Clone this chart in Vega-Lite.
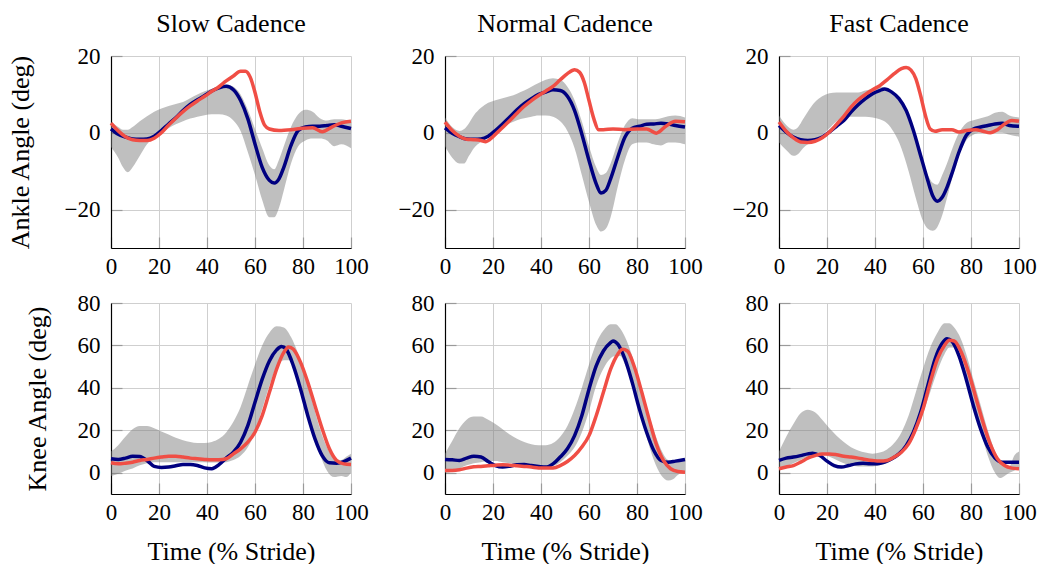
{
"$schema": "https://vega.github.io/schema/vega-lite/v6.json",
"padding": {"left": 7, "top": 11, "right": 5, "bottom": 0},
"bounds": "flush",
"columns": 3,
"spacing": {"row": 55, "column": 94},
"config": {
  "font": "Liberation Serif",
  "view": {"stroke": null},
  "axis": {"labelFont": "Liberation Serif", "labelFontSize": 23, "labelColor": "black", "titleFont": "Liberation Serif", "titleFontSize": 26, "titleFontWeight": "normal", "titleColor": "black", "gridColor": "#cfcfcf", "gridWidth": 1, "gridOpacity": 1, "domainColor": "black", "domainWidth": 1.2, "tickColor": "#9a9a9a", "tickSize": -11, "tickWidth": 1.2, "labelFlush": false, "labelOverlap": false},
  "axisX": {"labelPadding": 18, "titlePadding": 14},
  "axisY": {"labelPadding": 22},
  "title": {"font": "Liberation Serif", "fontSize": 26, "fontWeight": "normal", "color": "black", "frame": "group", "baseline": "alphabetic", "offset": 8}
},
"datasets": {
"bands": [
{"p":"AS","t":0,"lo":-3.7,"hi":2.8},{"p":"AS","t":3,"lo":-6.5,"hi":1.5},{"p":"AS","t":5,"lo":-9,"hi":0.8},{"p":"AS","t":7,"lo":-10.3,"hi":0.8},{"p":"AS","t":9,"lo":-9,"hi":1.5},{"p":"AS","t":12,"lo":-6,"hi":3.0},{"p":"AS","t":15,"lo":-3,"hi":4.3},{"p":"AS","t":18,"lo":-1.3,"hi":5.5},{"p":"AS","t":21,"lo":0,"hi":6.3},{"p":"AS","t":24,"lo":1.2,"hi":7.0},{"p":"AS","t":27,"lo":2.2,"hi":7.5},{"p":"AS","t":30,"lo":3.0,"hi":8.0},{"p":"AS","t":33,"lo":3.7,"hi":9.0},{"p":"AS","t":36,"lo":4.2,"hi":10.0},{"p":"AS","t":39,"lo":4.6,"hi":10.8},{"p":"AS","t":42,"lo":4.8,"hi":11.5},{"p":"AS","t":45,"lo":4.8,"hi":12.2},{"p":"AS","t":48,"lo":4.5,"hi":12.5},{"p":"AS","t":51,"lo":3.2,"hi":12.0},{"p":"AS","t":54,"lo":0.5,"hi":10.0},{"p":"AS","t":57,"lo":-5,"hi":6.0},{"p":"AS","t":60,"lo":-11,"hi":1.0},{"p":"AS","t":63,"lo":-17.5,"hi":-4},{"p":"AS","t":66,"lo":-22,"hi":-8.5},{"p":"AS","t":68,"lo":-22,"hi":-9.5},{"p":"AS","t":70,"lo":-19.5,"hi":-7},{"p":"AS","t":72,"lo":-15,"hi":-3.5},{"p":"AS","t":75,"lo":-8,"hi":1.5},{"p":"AS","t":78,"lo":-3.5,"hi":4.8},{"p":"AS","t":81,"lo":-2,"hi":6.0},{"p":"AS","t":84,"lo":-1.5,"hi":5.5},{"p":"AS","t":87,"lo":-1.5,"hi":3.8},{"p":"AS","t":90,"lo":-2,"hi":3.2},{"p":"AS","t":93,"lo":-3.5,"hi":3.5},{"p":"AS","t":96,"lo":-3,"hi":3.5},{"p":"AS","t":100,"lo":-4,"hi":2.8},
{"p":"AN","t":0,"lo":-3.5,"hi":4},{"p":"AN","t":3,"lo":-6.5,"hi":1.5},{"p":"AN","t":6,"lo":-8,"hi":0.5},{"p":"AN","t":8,"lo":-8,"hi":1.0},{"p":"AN","t":10,"lo":-6,"hi":2.5},{"p":"AN","t":12,"lo":-4,"hi":4.5},{"p":"AN","t":15,"lo":-2.3,"hi":6.5},{"p":"AN","t":18,"lo":-1.0,"hi":7.8},{"p":"AN","t":21,"lo":0.3,"hi":8.5},{"p":"AN","t":24,"lo":1.5,"hi":9.0},{"p":"AN","t":27,"lo":2.5,"hi":9.5},{"p":"AN","t":30,"lo":3.3,"hi":10.2},{"p":"AN","t":33,"lo":3.8,"hi":11.0},{"p":"AN","t":36,"lo":4.2,"hi":12.0},{"p":"AN","t":39,"lo":4.5,"hi":13.0},{"p":"AN","t":42,"lo":4.5,"hi":13.8},{"p":"AN","t":45,"lo":4.2,"hi":14.2},{"p":"AN","t":48,"lo":3.0,"hi":13.8},{"p":"AN","t":51,"lo":0.5,"hi":12.0},{"p":"AN","t":54,"lo":-4,"hi":8.5},{"p":"AN","t":57,"lo":-11,"hi":3.0},{"p":"AN","t":60,"lo":-18,"hi":-3.5},{"p":"AN","t":63,"lo":-24,"hi":-9},{"p":"AN","t":65,"lo":-25.7,"hi":-11},{"p":"AN","t":67,"lo":-25,"hi":-10.5},{"p":"AN","t":69,"lo":-22,"hi":-8},{"p":"AN","t":72,"lo":-14,"hi":-2.5},{"p":"AN","t":75,"lo":-7,"hi":2.0},{"p":"AN","t":78,"lo":-3,"hi":3.8},{"p":"AN","t":81,"lo":-2.5,"hi":3.5},{"p":"AN","t":84,"lo":-2.5,"hi":3.5},{"p":"AN","t":87,"lo":-3,"hi":3.5},{"p":"AN","t":90,"lo":-3.3,"hi":3.8},{"p":"AN","t":93,"lo":-2.5,"hi":4.3},{"p":"AN","t":96,"lo":-2.5,"hi":4.5},{"p":"AN","t":100,"lo":-3,"hi":4},
{"p":"AF","t":0,"lo":-2.5,"hi":4.5},{"p":"AF","t":3,"lo":-4.5,"hi":2.0},{"p":"AF","t":6,"lo":-6,"hi":0.8},{"p":"AF","t":8,"lo":-5.5,"hi":1.5},{"p":"AF","t":10,"lo":-4,"hi":3.5},{"p":"AF","t":12,"lo":-3,"hi":5.5},{"p":"AF","t":15,"lo":-1.8,"hi":8.0},{"p":"AF","t":18,"lo":-0.5,"hi":9.5},{"p":"AF","t":21,"lo":1.2,"hi":10.3},{"p":"AF","t":24,"lo":3.0,"hi":10.5},{"p":"AF","t":27,"lo":4.0,"hi":10.5},{"p":"AF","t":30,"lo":4.2,"hi":10.5},{"p":"AF","t":33,"lo":4.2,"hi":10.5},{"p":"AF","t":36,"lo":4.2,"hi":11.0},{"p":"AF","t":39,"lo":4.0,"hi":11.5},{"p":"AF","t":42,"lo":3.5,"hi":12.0},{"p":"AF","t":45,"lo":2.5,"hi":11.5},{"p":"AF","t":48,"lo":0,"hi":10.0},{"p":"AF","t":51,"lo":-4,"hi":7.5},{"p":"AF","t":54,"lo":-10,"hi":3.5},{"p":"AF","t":57,"lo":-17,"hi":-2},{"p":"AF","t":60,"lo":-23,"hi":-8},{"p":"AF","t":62,"lo":-25,"hi":-11},{"p":"AF","t":64,"lo":-25.5,"hi":-13},{"p":"AF","t":66,"lo":-24.5,"hi":-13.5},{"p":"AF","t":68,"lo":-21.5,"hi":-11},{"p":"AF","t":70,"lo":-17,"hi":-8},{"p":"AF","t":72,"lo":-12,"hi":-4.5},{"p":"AF","t":75,"lo":-6,"hi":0},{"p":"AF","t":78,"lo":-2,"hi":2.5},{"p":"AF","t":81,"lo":-0.5,"hi":3.3},{"p":"AF","t":84,"lo":0,"hi":3.8},{"p":"AF","t":87,"lo":0,"hi":4.3},{"p":"AF","t":90,"lo":0,"hi":5.2},{"p":"AF","t":93,"lo":0,"hi":5.5},{"p":"AF","t":96,"lo":-0.5,"hi":4.5},{"p":"AF","t":100,"lo":-1.0,"hi":4.0},
{"p":"KS","t":0,"lo":-1.5,"hi":10},{"p":"KS","t":3,"lo":-0.5,"hi":13},{"p":"KS","t":6,"lo":1.0,"hi":17},{"p":"KS","t":9,"lo":2.0,"hi":20.5},{"p":"KS","t":12,"lo":3.5,"hi":22},{"p":"KS","t":15,"lo":4.5,"hi":22},{"p":"KS","t":18,"lo":5.0,"hi":21},{"p":"KS","t":21,"lo":5.0,"hi":19.5},{"p":"KS","t":24,"lo":5.0,"hi":18},{"p":"KS","t":27,"lo":5.0,"hi":16.5},{"p":"KS","t":30,"lo":5.0,"hi":15.3},{"p":"KS","t":33,"lo":5.0,"hi":14.5},{"p":"KS","t":36,"lo":5.0,"hi":14.0},{"p":"KS","t":39,"lo":5.0,"hi":14.0},{"p":"KS","t":42,"lo":4.8,"hi":14.5},{"p":"KS","t":45,"lo":4.8,"hi":16.0},{"p":"KS","t":48,"lo":5.0,"hi":19.0},{"p":"KS","t":51,"lo":6,"hi":24},{"p":"KS","t":54,"lo":8,"hi":31},{"p":"KS","t":57,"lo":12,"hi":41},{"p":"KS","t":60,"lo":19,"hi":51},{"p":"KS","t":63,"lo":30,"hi":60},{"p":"KS","t":66,"lo":41,"hi":66},{"p":"KS","t":69,"lo":50,"hi":69},{"p":"KS","t":72,"lo":53,"hi":68.5},{"p":"KS","t":75,"lo":53,"hi":64},{"p":"KS","t":78,"lo":45,"hi":56},{"p":"KS","t":81,"lo":33,"hi":45},{"p":"KS","t":84,"lo":20,"hi":33},{"p":"KS","t":87,"lo":9,"hi":21},{"p":"KS","t":90,"lo":1,"hi":12},{"p":"KS","t":93,"lo":-2,"hi":7},{"p":"KS","t":96,"lo":-1.5,"hi":6},{"p":"KS","t":98,"lo":-2,"hi":7.5},{"p":"KS","t":100,"lo":0,"hi":9},
{"p":"KN","t":0,"lo":0,"hi":9},{"p":"KN","t":3,"lo":0.5,"hi":15},{"p":"KN","t":6,"lo":2,"hi":21},{"p":"KN","t":9,"lo":3.5,"hi":25},{"p":"KN","t":12,"lo":4.5,"hi":26.5},{"p":"KN","t":15,"lo":5,"hi":26.5},{"p":"KN","t":18,"lo":5.5,"hi":25},{"p":"KN","t":21,"lo":5.5,"hi":23},{"p":"KN","t":24,"lo":5,"hi":20.5},{"p":"KN","t":27,"lo":4.5,"hi":18},{"p":"KN","t":30,"lo":4,"hi":16},{"p":"KN","t":33,"lo":3.5,"hi":14.5},{"p":"KN","t":36,"lo":3,"hi":13.5},{"p":"KN","t":39,"lo":3,"hi":13},{"p":"KN","t":42,"lo":3,"hi":13},{"p":"KN","t":45,"lo":3.2,"hi":14},{"p":"KN","t":48,"lo":5,"hi":17},{"p":"KN","t":51,"lo":8,"hi":22},{"p":"KN","t":54,"lo":12,"hi":30},{"p":"KN","t":57,"lo":19,"hi":40},{"p":"KN","t":60,"lo":29,"hi":51},{"p":"KN","t":63,"lo":41,"hi":61},{"p":"KN","t":66,"lo":49,"hi":67},{"p":"KN","t":69,"lo":54,"hi":70},{"p":"KN","t":71,"lo":55,"hi":70},{"p":"KN","t":73,"lo":55,"hi":68},{"p":"KN","t":75,"lo":51,"hi":64},{"p":"KN","t":78,"lo":42,"hi":55},{"p":"KN","t":81,"lo":30,"hi":43},{"p":"KN","t":84,"lo":17,"hi":31},{"p":"KN","t":87,"lo":6,"hi":20},{"p":"KN","t":90,"lo":-1,"hi":11},{"p":"KN","t":93,"lo":-3.6,"hi":6},{"p":"KN","t":95,"lo":-3,"hi":5.5},{"p":"KN","t":97,"lo":-1,"hi":6},{"p":"KN","t":100,"lo":1,"hi":7},
{"p":"KF","t":0,"lo":2,"hi":10},{"p":"KF","t":3,"lo":3,"hi":17},{"p":"KF","t":6,"lo":4.5,"hi":23},{"p":"KF","t":9,"lo":6,"hi":28},{"p":"KF","t":12,"lo":7.5,"hi":29.7},{"p":"KF","t":15,"lo":8.5,"hi":28.5},{"p":"KF","t":18,"lo":9,"hi":25},{"p":"KF","t":21,"lo":7.5,"hi":21},{"p":"KF","t":24,"lo":6,"hi":17.5},{"p":"KF","t":27,"lo":4.5,"hi":14.5},{"p":"KF","t":30,"lo":3.5,"hi":12},{"p":"KF","t":33,"lo":3,"hi":10.5},{"p":"KF","t":36,"lo":3,"hi":9.5},{"p":"KF","t":39,"lo":3,"hi":9},{"p":"KF","t":42,"lo":3.5,"hi":9.5},{"p":"KF","t":45,"lo":4.5,"hi":11},{"p":"KF","t":48,"lo":6.5,"hi":14},{"p":"KF","t":51,"lo":9,"hi":19},{"p":"KF","t":54,"lo":13,"hi":27},{"p":"KF","t":57,"lo":19,"hi":38},{"p":"KF","t":60,"lo":28,"hi":49},{"p":"KF","t":63,"lo":38,"hi":59},{"p":"KF","t":66,"lo":48,"hi":66},{"p":"KF","t":69,"lo":56,"hi":70.5},{"p":"KF","t":71,"lo":59,"hi":70.5},{"p":"KF","t":73,"lo":59,"hi":68.5},{"p":"KF","t":75,"lo":55,"hi":65},{"p":"KF","t":78,"lo":46,"hi":56},{"p":"KF","t":81,"lo":34,"hi":44},{"p":"KF","t":84,"lo":20,"hi":32},{"p":"KF","t":87,"lo":8,"hi":20},{"p":"KF","t":90,"lo":0,"hi":10},{"p":"KF","t":92,"lo":-2.5,"hi":5},{"p":"KF","t":94,"lo":-1.5,"hi":3},{"p":"KF","t":96,"lo":0,"hi":3},{"p":"KF","t":98,"lo":1,"hi":8},{"p":"KF","t":100,"lo":2,"hi":10}
],
"lines": [
{"p":"AS","s":"m","t":0,"v":1.0},{"p":"AS","s":"m","t":3,"v":-0.4},{"p":"AS","s":"m","t":6,"v":-1.1},{"p":"AS","s":"m","t":9,"v":-1.6},{"p":"AS","s":"m","t":12,"v":-1.7},{"p":"AS","s":"m","t":15,"v":-1.6},{"p":"AS","s":"m","t":18,"v":-0.9},{"p":"AS","s":"m","t":21,"v":0.6},{"p":"AS","s":"m","t":24,"v":2.3},{"p":"AS","s":"m","t":27,"v":3.9},{"p":"AS","s":"m","t":30,"v":5.8},{"p":"AS","s":"m","t":33,"v":7.4},{"p":"AS","s":"m","t":36,"v":8.6},{"p":"AS","s":"m","t":39,"v":9.7},{"p":"AS","s":"m","t":42,"v":10.9},{"p":"AS","s":"m","t":45,"v":11.7},{"p":"AS","s":"m","t":48,"v":12.1},{"p":"AS","s":"m","t":51,"v":11.2},{"p":"AS","s":"m","t":54,"v":8.4},{"p":"AS","s":"m","t":57,"v":3.7},{"p":"AS","s":"m","t":60,"v":-2.9},{"p":"AS","s":"m","t":63,"v":-9},{"p":"AS","s":"m","t":66,"v":-12.4},{"p":"AS","s":"m","t":68,"v":-13.1},{"p":"AS","s":"m","t":70,"v":-12},{"p":"AS","s":"m","t":72,"v":-9},{"p":"AS","s":"m","t":75,"v":-3.3},{"p":"AS","s":"m","t":78,"v":0.6},{"p":"AS","s":"m","t":81,"v":1.5},{"p":"AS","s":"m","t":84,"v":1.7},{"p":"AS","s":"m","t":87,"v":1.7},{"p":"AS","s":"m","t":90,"v":1.9},{"p":"AS","s":"m","t":93,"v":2.1},{"p":"AS","s":"m","t":96,"v":1.7},{"p":"AS","s":"m","t":100,"v":1.1},
{"p":"AS","s":"r","t":0,"v":2.5},{"p":"AS","s":"r","t":3,"v":0.5},{"p":"AS","s":"r","t":6,"v":-1.0},{"p":"AS","s":"r","t":9,"v":-1.8},{"p":"AS","s":"r","t":12,"v":-2.0},{"p":"AS","s":"r","t":15,"v":-2.0},{"p":"AS","s":"r","t":18,"v":-1.4},{"p":"AS","s":"r","t":21,"v":0.0},{"p":"AS","s":"r","t":24,"v":2.0},{"p":"AS","s":"r","t":27,"v":3.8},{"p":"AS","s":"r","t":30,"v":5.5},{"p":"AS","s":"r","t":33,"v":7.0},{"p":"AS","s":"r","t":36,"v":8.3},{"p":"AS","s":"r","t":39,"v":9.5},{"p":"AS","s":"r","t":42,"v":10.8},{"p":"AS","s":"r","t":45,"v":12.0},{"p":"AS","s":"r","t":48,"v":13.5},{"p":"AS","s":"r","t":51,"v":14.8},{"p":"AS","s":"r","t":54,"v":16.0},{"p":"AS","s":"r","t":56,"v":16.0},{"p":"AS","s":"r","t":58,"v":14.5},{"p":"AS","s":"r","t":60,"v":10.5},{"p":"AS","s":"r","t":62,"v":5.5},{"p":"AS","s":"r","t":64,"v":2.0},{"p":"AS","s":"r","t":66,"v":1.0},{"p":"AS","s":"r","t":70,"v":0.6},{"p":"AS","s":"r","t":75,"v":0.8},{"p":"AS","s":"r","t":80,"v":1.2},{"p":"AS","s":"r","t":84,"v":1.3},{"p":"AS","s":"r","t":88,"v":0.3},{"p":"AS","s":"r","t":92,"v":1.5},{"p":"AS","s":"r","t":96,"v":2.6},{"p":"AS","s":"r","t":100,"v":3.0},
{"p":"AN","s":"m","t":0,"v":1.3},{"p":"AN","s":"m","t":3,"v":-0.1},{"p":"AN","s":"m","t":6,"v":-1.0},{"p":"AN","s":"m","t":9,"v":-1.6},{"p":"AN","s":"m","t":12,"v":-1.7},{"p":"AN","s":"m","t":15,"v":-1.6},{"p":"AN","s":"m","t":18,"v":-0.9},{"p":"AN","s":"m","t":21,"v":0.6},{"p":"AN","s":"m","t":24,"v":2.3},{"p":"AN","s":"m","t":27,"v":4.1},{"p":"AN","s":"m","t":30,"v":6.0},{"p":"AN","s":"m","t":33,"v":7.6},{"p":"AN","s":"m","t":36,"v":8.9},{"p":"AN","s":"m","t":39,"v":10.0},{"p":"AN","s":"m","t":42,"v":10.6},{"p":"AN","s":"m","t":45,"v":11.2},{"p":"AN","s":"m","t":48,"v":11.0},{"p":"AN","s":"m","t":51,"v":9.5},{"p":"AN","s":"m","t":54,"v":5.8},{"p":"AN","s":"m","t":57,"v":-0.3},{"p":"AN","s":"m","t":60,"v":-7.2},{"p":"AN","s":"m","t":63,"v":-13.3},{"p":"AN","s":"m","t":65,"v":-15.7},{"p":"AN","s":"m","t":67,"v":-15.0},{"p":"AN","s":"m","t":69,"v":-12.0},{"p":"AN","s":"m","t":72,"v":-6.3},{"p":"AN","s":"m","t":75,"v":-1.1},{"p":"AN","s":"m","t":78,"v":1.2},{"p":"AN","s":"m","t":81,"v":1.7},{"p":"AN","s":"m","t":84,"v":2.2},{"p":"AN","s":"m","t":87,"v":2.3},{"p":"AN","s":"m","t":90,"v":2.5},{"p":"AN","s":"m","t":93,"v":2.3},{"p":"AN","s":"m","t":96,"v":1.9},{"p":"AN","s":"m","t":100,"v":1.5},
{"p":"AN","s":"r","t":0,"v":2.8},{"p":"AN","s":"r","t":3,"v":0.6},{"p":"AN","s":"r","t":6,"v":-0.9},{"p":"AN","s":"r","t":9,"v":-1.7},{"p":"AN","s":"r","t":12,"v":-1.8},{"p":"AN","s":"r","t":15,"v":-2.0},{"p":"AN","s":"r","t":17,"v":-2.3},{"p":"AN","s":"r","t":20,"v":-1.0},{"p":"AN","s":"r","t":23,"v":0.8},{"p":"AN","s":"r","t":27,"v":3.2},{"p":"AN","s":"r","t":30,"v":5.1},{"p":"AN","s":"r","t":33,"v":6.9},{"p":"AN","s":"r","t":36,"v":8.4},{"p":"AN","s":"r","t":39,"v":9.7},{"p":"AN","s":"r","t":42,"v":10.9},{"p":"AN","s":"r","t":45,"v":12.1},{"p":"AN","s":"r","t":48,"v":13.8},{"p":"AN","s":"r","t":51,"v":15.4},{"p":"AN","s":"r","t":54,"v":16.4},{"p":"AN","s":"r","t":56,"v":15.8},{"p":"AN","s":"r","t":58,"v":13.2},{"p":"AN","s":"r","t":60,"v":8.4},{"p":"AN","s":"r","t":62,"v":3.7},{"p":"AN","s":"r","t":64,"v":0.8},{"p":"AN","s":"r","t":66,"v":0.8},{"p":"AN","s":"r","t":70,"v":1.0},{"p":"AN","s":"r","t":75,"v":0.8},{"p":"AN","s":"r","t":80,"v":1.0},{"p":"AN","s":"r","t":84,"v":1.0},{"p":"AN","s":"r","t":88,"v":-0.1},{"p":"AN","s":"r","t":92,"v":1.7},{"p":"AN","s":"r","t":96,"v":3.0},{"p":"AN","s":"r","t":100,"v":2.9},
{"p":"AF","s":"m","t":0,"v":1.9},{"p":"AF","s":"m","t":3,"v":0.2},{"p":"AF","s":"m","t":6,"v":-1.1},{"p":"AF","s":"m","t":9,"v":-1.8},{"p":"AF","s":"m","t":12,"v":-2.0},{"p":"AF","s":"m","t":15,"v":-1.8},{"p":"AF","s":"m","t":18,"v":-1.1},{"p":"AF","s":"m","t":21,"v":0.2},{"p":"AF","s":"m","t":24,"v":1.7},{"p":"AF","s":"m","t":27,"v":3.2},{"p":"AF","s":"m","t":30,"v":5.4},{"p":"AF","s":"m","t":33,"v":7.3},{"p":"AF","s":"m","t":36,"v":8.9},{"p":"AF","s":"m","t":39,"v":10.2},{"p":"AF","s":"m","t":42,"v":11.0},{"p":"AF","s":"m","t":44,"v":11.4},{"p":"AF","s":"m","t":47,"v":10.6},{"p":"AF","s":"m","t":50,"v":8.9},{"p":"AF","s":"m","t":53,"v":5.8},{"p":"AF","s":"m","t":56,"v":0.6},{"p":"AF","s":"m","t":59,"v":-5.9},{"p":"AF","s":"m","t":62,"v":-12.4},{"p":"AF","s":"m","t":64,"v":-16.3},{"p":"AF","s":"m","t":66,"v":-17.8},{"p":"AF","s":"m","t":68,"v":-16.8},{"p":"AF","s":"m","t":70,"v":-14.2},{"p":"AF","s":"m","t":72,"v":-10.7},{"p":"AF","s":"m","t":75,"v":-5.0},{"p":"AF","s":"m","t":78,"v":-0.7},{"p":"AF","s":"m","t":81,"v":1.0},{"p":"AF","s":"m","t":84,"v":1.5},{"p":"AF","s":"m","t":87,"v":1.9},{"p":"AF","s":"m","t":90,"v":2.3},{"p":"AF","s":"m","t":93,"v":2.5},{"p":"AF","s":"m","t":96,"v":1.9},{"p":"AF","s":"m","t":100,"v":1.7},
{"p":"AF","s":"r","t":0,"v":2.8},{"p":"AF","s":"r","t":3,"v":0.4},{"p":"AF","s":"r","t":6,"v":-1.3},{"p":"AF","s":"r","t":9,"v":-2.4},{"p":"AF","s":"r","t":12,"v":-2.5},{"p":"AF","s":"r","t":15,"v":-2.2},{"p":"AF","s":"r","t":18,"v":-1.3},{"p":"AF","s":"r","t":21,"v":0.2},{"p":"AF","s":"r","t":24,"v":2.2},{"p":"AF","s":"r","t":27,"v":4.3},{"p":"AF","s":"r","t":30,"v":6.7},{"p":"AF","s":"r","t":33,"v":8.6},{"p":"AF","s":"r","t":36,"v":10.0},{"p":"AF","s":"r","t":39,"v":11.2},{"p":"AF","s":"r","t":42,"v":12.3},{"p":"AF","s":"r","t":45,"v":13.8},{"p":"AF","s":"r","t":48,"v":15.4},{"p":"AF","s":"r","t":51,"v":16.7},{"p":"AF","s":"r","t":53,"v":17.0},{"p":"AF","s":"r","t":55,"v":16.3},{"p":"AF","s":"r","t":57,"v":14.1},{"p":"AF","s":"r","t":59,"v":9.7},{"p":"AF","s":"r","t":61,"v":4.5},{"p":"AF","s":"r","t":63,"v":1.0},{"p":"AF","s":"r","t":65,"v":0.4},{"p":"AF","s":"r","t":68,"v":0.8},{"p":"AF","s":"r","t":72,"v":0.8},{"p":"AF","s":"r","t":75,"v":0.2},{"p":"AF","s":"r","t":78,"v":0.6},{"p":"AF","s":"r","t":82,"v":0.8},{"p":"AF","s":"r","t":85,"v":0.4},{"p":"AF","s":"r","t":88,"v":0.0},{"p":"AF","s":"r","t":91,"v":0.8},{"p":"AF","s":"r","t":94,"v":2.3},{"p":"AF","s":"r","t":97,"v":3.2},{"p":"AF","s":"r","t":100,"v":3.0},
{"p":"KS","s":"m","t":0,"v":6.6},{"p":"KS","s":"m","t":3,"v":6.3},{"p":"KS","s":"m","t":6,"v":6.9},{"p":"KS","s":"m","t":9,"v":7.8},{"p":"KS","s":"m","t":12,"v":7.7},{"p":"KS","s":"m","t":15,"v":5.8},{"p":"KS","s":"m","t":18,"v":3.0},{"p":"KS","s":"m","t":21,"v":2.5},{"p":"KS","s":"m","t":24,"v":2.7},{"p":"KS","s":"m","t":27,"v":3.3},{"p":"KS","s":"m","t":30,"v":3.9},{"p":"KS","s":"m","t":33,"v":3.9},{"p":"KS","s":"m","t":36,"v":3.4},{"p":"KS","s":"m","t":39,"v":2.3},{"p":"KS","s":"m","t":42,"v":1.9},{"p":"KS","s":"m","t":45,"v":3.8},{"p":"KS","s":"m","t":48,"v":6.9},{"p":"KS","s":"m","t":51,"v":9.7},{"p":"KS","s":"m","t":54,"v":14.4},{"p":"KS","s":"m","t":57,"v":22.2},{"p":"KS","s":"m","t":60,"v":33.2},{"p":"KS","s":"m","t":63,"v":44.1},{"p":"KS","s":"m","t":66,"v":52.7},{"p":"KS","s":"m","t":69,"v":57.9},{"p":"KS","s":"m","t":71,"v":59.5},{"p":"KS","s":"m","t":73,"v":58.2},{"p":"KS","s":"m","t":76,"v":50.4},{"p":"KS","s":"m","t":79,"v":39.4},{"p":"KS","s":"m","t":82,"v":26.9},{"p":"KS","s":"m","t":85,"v":16.0},{"p":"KS","s":"m","t":88,"v":8.1},{"p":"KS","s":"m","t":91,"v":4.7},{"p":"KS","s":"m","t":94,"v":4.5},{"p":"KS","s":"m","t":97,"v":5.3},{"p":"KS","s":"m","t":100,"v":6.9},
{"p":"KS","s":"r","t":0,"v":4.7},{"p":"KS","s":"r","t":3,"v":4.2},{"p":"KS","s":"r","t":6,"v":4.5},{"p":"KS","s":"r","t":9,"v":5.0},{"p":"KS","s":"r","t":12,"v":5.8},{"p":"KS","s":"r","t":15,"v":6.3},{"p":"KS","s":"r","t":18,"v":6.9},{"p":"KS","s":"r","t":21,"v":7.4},{"p":"KS","s":"r","t":24,"v":7.8},{"p":"KS","s":"r","t":27,"v":7.8},{"p":"KS","s":"r","t":30,"v":7.4},{"p":"KS","s":"r","t":33,"v":6.9},{"p":"KS","s":"r","t":36,"v":6.6},{"p":"KS","s":"r","t":39,"v":6.3},{"p":"KS","s":"r","t":42,"v":6.1},{"p":"KS","s":"r","t":45,"v":6.1},{"p":"KS","s":"r","t":48,"v":6.6},{"p":"KS","s":"r","t":51,"v":8.9},{"p":"KS","s":"r","t":54,"v":11.3},{"p":"KS","s":"r","t":57,"v":14.4},{"p":"KS","s":"r","t":60,"v":19.1},{"p":"KS","s":"r","t":63,"v":26.9},{"p":"KS","s":"r","t":66,"v":37.9},{"p":"KS","s":"r","t":69,"v":48.8},{"p":"KS","s":"r","t":72,"v":56.7},{"p":"KS","s":"r","t":74,"v":59.3},{"p":"KS","s":"r","t":76,"v":58.2},{"p":"KS","s":"r","t":79,"v":52.0},{"p":"KS","s":"r","t":82,"v":42.6},{"p":"KS","s":"r","t":85,"v":31.6},{"p":"KS","s":"r","t":88,"v":20.7},{"p":"KS","s":"r","t":91,"v":11.3},{"p":"KS","s":"r","t":94,"v":5.8},{"p":"KS","s":"r","t":97,"v":4.2},{"p":"KS","s":"r","t":100,"v":3.9},
{"p":"KN","s":"m","t":0,"v":6.3},{"p":"KN","s":"m","t":3,"v":6.1},{"p":"KN","s":"m","t":6,"v":5.8},{"p":"KN","s":"m","t":9,"v":6.9},{"p":"KN","s":"m","t":12,"v":7.8},{"p":"KN","s":"m","t":15,"v":7.4},{"p":"KN","s":"m","t":18,"v":5.3},{"p":"KN","s":"m","t":21,"v":3.4},{"p":"KN","s":"m","t":24,"v":2.7},{"p":"KN","s":"m","t":27,"v":3.1},{"p":"KN","s":"m","t":30,"v":3.8},{"p":"KN","s":"m","t":33,"v":3.9},{"p":"KN","s":"m","t":36,"v":3.4},{"p":"KN","s":"m","t":39,"v":3.0},{"p":"KN","s":"m","t":42,"v":2.7},{"p":"KN","s":"m","t":45,"v":4.2},{"p":"KN","s":"m","t":48,"v":7.4},{"p":"KN","s":"m","t":51,"v":11.3},{"p":"KN","s":"m","t":54,"v":17.5},{"p":"KN","s":"m","t":57,"v":26.9},{"p":"KN","s":"m","t":60,"v":39.4},{"p":"KN","s":"m","t":63,"v":50.4},{"p":"KN","s":"m","t":66,"v":57.4},{"p":"KN","s":"m","t":69,"v":61.3},{"p":"KN","s":"m","t":70,"v":62.1},{"p":"KN","s":"m","t":72,"v":60.6},{"p":"KN","s":"m","t":75,"v":53.5},{"p":"KN","s":"m","t":78,"v":42.6},{"p":"KN","s":"m","t":81,"v":30.0},{"p":"KN","s":"m","t":84,"v":19.1},{"p":"KN","s":"m","t":87,"v":10.5},{"p":"KN","s":"m","t":90,"v":5.8},{"p":"KN","s":"m","t":93,"v":5.0},{"p":"KN","s":"m","t":96,"v":5.5},{"p":"KN","s":"m","t":100,"v":6.3},
{"p":"KN","s":"r","t":0,"v":1.1},{"p":"KN","s":"r","t":3,"v":1.1},{"p":"KN","s":"r","t":6,"v":1.4},{"p":"KN","s":"r","t":9,"v":2.2},{"p":"KN","s":"r","t":12,"v":2.8},{"p":"KN","s":"r","t":15,"v":3.0},{"p":"KN","s":"r","t":18,"v":3.3},{"p":"KN","s":"r","t":21,"v":3.6},{"p":"KN","s":"r","t":24,"v":3.8},{"p":"KN","s":"r","t":27,"v":3.6},{"p":"KN","s":"r","t":30,"v":3.3},{"p":"KN","s":"r","t":33,"v":3.0},{"p":"KN","s":"r","t":36,"v":2.7},{"p":"KN","s":"r","t":39,"v":2.3},{"p":"KN","s":"r","t":42,"v":2.2},{"p":"KN","s":"r","t":45,"v":2.3},{"p":"KN","s":"r","t":48,"v":3.4},{"p":"KN","s":"r","t":51,"v":5.3},{"p":"KN","s":"r","t":54,"v":8.1},{"p":"KN","s":"r","t":57,"v":12.1},{"p":"KN","s":"r","t":60,"v":17.5},{"p":"KN","s":"r","t":63,"v":26.9},{"p":"KN","s":"r","t":66,"v":37.9},{"p":"KN","s":"r","t":69,"v":48.8},{"p":"KN","s":"r","t":72,"v":55.9},{"p":"KN","s":"r","t":74,"v":58.2},{"p":"KN","s":"r","t":76,"v":57.4},{"p":"KN","s":"r","t":79,"v":49.6},{"p":"KN","s":"r","t":82,"v":37.9},{"p":"KN","s":"r","t":85,"v":25.4},{"p":"KN","s":"r","t":88,"v":13.6},{"p":"KN","s":"r","t":91,"v":5.8},{"p":"KN","s":"r","t":94,"v":1.9},{"p":"KN","s":"r","t":97,"v":0.6},{"p":"KN","s":"r","t":100,"v":0.3},
{"p":"KF","s":"m","t":0,"v":5.8},{"p":"KF","s":"m","t":3,"v":6.9},{"p":"KF","s":"m","t":6,"v":7.4},{"p":"KF","s":"m","t":9,"v":8.1},{"p":"KF","s":"m","t":12,"v":8.9},{"p":"KF","s":"m","t":14,"v":9.2},{"p":"KF","s":"m","t":17,"v":8.1},{"p":"KF","s":"m","t":20,"v":5.5},{"p":"KF","s":"m","t":23,"v":3.4},{"p":"KF","s":"m","t":26,"v":2.7},{"p":"KF","s":"m","t":29,"v":3.4},{"p":"KF","s":"m","t":32,"v":4.2},{"p":"KF","s":"m","t":35,"v":4.5},{"p":"KF","s":"m","t":38,"v":4.2},{"p":"KF","s":"m","t":41,"v":4.2},{"p":"KF","s":"m","t":44,"v":5.0},{"p":"KF","s":"m","t":47,"v":6.6},{"p":"KF","s":"m","t":50,"v":8.9},{"p":"KF","s":"m","t":53,"v":12.8},{"p":"KF","s":"m","t":56,"v":19.1},{"p":"KF","s":"m","t":59,"v":28.5},{"p":"KF","s":"m","t":62,"v":41.0},{"p":"KF","s":"m","t":65,"v":53.5},{"p":"KF","s":"m","t":68,"v":61.0},{"p":"KF","s":"m","t":70,"v":63.2},{"p":"KF","s":"m","t":72,"v":62.1},{"p":"KF","s":"m","t":75,"v":55.1},{"p":"KF","s":"m","t":78,"v":44.1},{"p":"KF","s":"m","t":81,"v":31.6},{"p":"KF","s":"m","t":84,"v":20.7},{"p":"KF","s":"m","t":87,"v":12.1},{"p":"KF","s":"m","t":90,"v":6.9},{"p":"KF","s":"m","t":93,"v":5.0},{"p":"KF","s":"m","t":96,"v":5.0},{"p":"KF","s":"m","t":100,"v":5.0},
{"p":"KF","s":"r","t":0,"v":1.9},{"p":"KF","s":"r","t":3,"v":2.7},{"p":"KF","s":"r","t":6,"v":3.4},{"p":"KF","s":"r","t":9,"v":5.0},{"p":"KF","s":"r","t":12,"v":6.9},{"p":"KF","s":"r","t":15,"v":8.1},{"p":"KF","s":"r","t":18,"v":8.9},{"p":"KF","s":"r","t":21,"v":8.9},{"p":"KF","s":"r","t":24,"v":8.5},{"p":"KF","s":"r","t":27,"v":7.8},{"p":"KF","s":"r","t":30,"v":7.4},{"p":"KF","s":"r","t":33,"v":6.9},{"p":"KF","s":"r","t":36,"v":6.3},{"p":"KF","s":"r","t":39,"v":5.8},{"p":"KF","s":"r","t":42,"v":5.5},{"p":"KF","s":"r","t":45,"v":5.8},{"p":"KF","s":"r","t":48,"v":7.4},{"p":"KF","s":"r","t":51,"v":9.7},{"p":"KF","s":"r","t":54,"v":13.6},{"p":"KF","s":"r","t":57,"v":20.7},{"p":"KF","s":"r","t":60,"v":30.0},{"p":"KF","s":"r","t":63,"v":42.6},{"p":"KF","s":"r","t":66,"v":53.5},{"p":"KF","s":"r","t":69,"v":60.1},{"p":"KF","s":"r","t":71,"v":62.4},{"p":"KF","s":"r","t":73,"v":62.1},{"p":"KF","s":"r","t":76,"v":56.7},{"p":"KF","s":"r","t":79,"v":47.3},{"p":"KF","s":"r","t":82,"v":35.5},{"p":"KF","s":"r","t":85,"v":23.8},{"p":"KF","s":"r","t":88,"v":13.6},{"p":"KF","s":"r","t":91,"v":6.6},{"p":"KF","s":"r","t":94,"v":3.4},{"p":"KF","s":"r","t":97,"v":2.2},{"p":"KF","s":"r","t":100,"v":1.9}
]
},
"concat": [
 {"width": 240, "height": 192, "title": "Slow Cadence",
  "encoding": {"x": {"field": "t", "type": "quantitative", "scale": {"domain": [0, 100], "nice": false}, "axis": {"values": [0, 20, 40, 60, 80, 100], "title": null}}},
  "layer": [
   {"data": {"name": "bands"}, "transform": [{"filter": "datum.p === 'AS'"}], "mark": {"type": "area", "color": "#808080", "opacity": 0.5, "interpolate": "monotone"},
    "encoding": {"y": {"field": "lo", "type": "quantitative", "scale": {"domain": [-30, 20], "nice": false, "zero": false}, "axis": {"values": [-20, 0, 20], "title": "Ankle Angle (deg)", "titlePadding": 31}}, "y2": {"field": "hi"}}},
   {"data": {"name": "lines"}, "transform": [{"filter": "datum.p === 'AS'"}], "mark": {"type": "line", "interpolate": "monotone", "strokeWidth": 3.5},
    "encoding": {"y": {"field": "v", "type": "quantitative", "scale": {"domain": [-30, 20], "nice": false, "zero": false}, "axis": {"values": [-20, 0, 20], "title": "Ankle Angle (deg)", "titlePadding": 31}}, "color": {"field": "s", "type": "nominal", "scale": {"domain": ["m", "r"], "range": ["#000080", "#f04e45"]}, "legend": null}}}
  ]},
 {"width": 240, "height": 192, "title": "Normal Cadence",
  "encoding": {"x": {"field": "t", "type": "quantitative", "scale": {"domain": [0, 100], "nice": false}, "axis": {"values": [0, 20, 40, 60, 80, 100], "title": null}}},
  "layer": [
   {"data": {"name": "bands"}, "transform": [{"filter": "datum.p === 'AN'"}], "mark": {"type": "area", "color": "#808080", "opacity": 0.5, "interpolate": "monotone"},
    "encoding": {"y": {"field": "lo", "type": "quantitative", "scale": {"domain": [-30, 20], "nice": false, "zero": false}, "axis": {"values": [-20, 0, 20], "title": null}}, "y2": {"field": "hi"}}},
   {"data": {"name": "lines"}, "transform": [{"filter": "datum.p === 'AN'"}], "mark": {"type": "line", "interpolate": "monotone", "strokeWidth": 3.5},
    "encoding": {"y": {"field": "v", "type": "quantitative", "scale": {"domain": [-30, 20], "nice": false, "zero": false}, "axis": {"values": [-20, 0, 20], "title": null}}, "color": {"field": "s", "type": "nominal", "scale": {"domain": ["m", "r"], "range": ["#000080", "#f04e45"]}, "legend": null}}}
  ]},
 {"width": 240, "height": 192, "title": "Fast Cadence",
  "encoding": {"x": {"field": "t", "type": "quantitative", "scale": {"domain": [0, 100], "nice": false}, "axis": {"values": [0, 20, 40, 60, 80, 100], "title": null}}},
  "layer": [
   {"data": {"name": "bands"}, "transform": [{"filter": "datum.p === 'AF'"}], "mark": {"type": "area", "color": "#808080", "opacity": 0.5, "interpolate": "monotone"},
    "encoding": {"y": {"field": "lo", "type": "quantitative", "scale": {"domain": [-30, 20], "nice": false, "zero": false}, "axis": {"values": [-20, 0, 20], "title": null}}, "y2": {"field": "hi"}}},
   {"data": {"name": "lines"}, "transform": [{"filter": "datum.p === 'AF'"}], "mark": {"type": "line", "interpolate": "monotone", "strokeWidth": 3.5},
    "encoding": {"y": {"field": "v", "type": "quantitative", "scale": {"domain": [-30, 20], "nice": false, "zero": false}, "axis": {"values": [-20, 0, 20], "title": null}}, "color": {"field": "s", "type": "nominal", "scale": {"domain": ["m", "r"], "range": ["#000080", "#f04e45"]}, "legend": null}}}
  ]},
 {"width": 240, "height": 191,
  "encoding": {"x": {"field": "t", "type": "quantitative", "scale": {"domain": [0, 100], "nice": false}, "axis": {"values": [0, 20, 40, 60, 80, 100], "title": "Time (% Stride)"}}},
  "layer": [
   {"data": {"name": "bands"}, "transform": [{"filter": "datum.p === 'KS'"}], "mark": {"type": "area", "color": "#808080", "opacity": 0.5, "interpolate": "monotone"},
    "encoding": {"y": {"field": "lo", "type": "quantitative", "scale": {"domain": [-10, 80], "nice": false, "zero": false}, "axis": {"values": [0, 20, 40, 60, 80], "title": "Knee Angle (deg)", "titlePadding": 27}}, "y2": {"field": "hi"}}},
   {"data": {"name": "lines"}, "transform": [{"filter": "datum.p === 'KS'"}], "mark": {"type": "line", "interpolate": "monotone", "strokeWidth": 3.5},
    "encoding": {"y": {"field": "v", "type": "quantitative", "scale": {"domain": [-10, 80], "nice": false, "zero": false}, "axis": {"values": [0, 20, 40, 60, 80], "title": "Knee Angle (deg)", "titlePadding": 27}}, "color": {"field": "s", "type": "nominal", "scale": {"domain": ["m", "r"], "range": ["#000080", "#f04e45"]}, "legend": null}}}
  ]},
 {"width": 240, "height": 191,
  "encoding": {"x": {"field": "t", "type": "quantitative", "scale": {"domain": [0, 100], "nice": false}, "axis": {"values": [0, 20, 40, 60, 80, 100], "title": "Time (% Stride)"}}},
  "layer": [
   {"data": {"name": "bands"}, "transform": [{"filter": "datum.p === 'KN'"}], "mark": {"type": "area", "color": "#808080", "opacity": 0.5, "interpolate": "monotone"},
    "encoding": {"y": {"field": "lo", "type": "quantitative", "scale": {"domain": [-10, 80], "nice": false, "zero": false}, "axis": {"values": [0, 20, 40, 60, 80], "title": null}}, "y2": {"field": "hi"}}},
   {"data": {"name": "lines"}, "transform": [{"filter": "datum.p === 'KN'"}], "mark": {"type": "line", "interpolate": "monotone", "strokeWidth": 3.5},
    "encoding": {"y": {"field": "v", "type": "quantitative", "scale": {"domain": [-10, 80], "nice": false, "zero": false}, "axis": {"values": [0, 20, 40, 60, 80], "title": null}}, "color": {"field": "s", "type": "nominal", "scale": {"domain": ["m", "r"], "range": ["#000080", "#f04e45"]}, "legend": null}}}
  ]},
 {"width": 240, "height": 191,
  "encoding": {"x": {"field": "t", "type": "quantitative", "scale": {"domain": [0, 100], "nice": false}, "axis": {"values": [0, 20, 40, 60, 80, 100], "title": "Time (% Stride)"}}},
  "layer": [
   {"data": {"name": "bands"}, "transform": [{"filter": "datum.p === 'KF'"}], "mark": {"type": "area", "color": "#808080", "opacity": 0.5, "interpolate": "monotone"},
    "encoding": {"y": {"field": "lo", "type": "quantitative", "scale": {"domain": [-10, 80], "nice": false, "zero": false}, "axis": {"values": [0, 20, 40, 60, 80], "title": null}}, "y2": {"field": "hi"}}},
   {"data": {"name": "lines"}, "transform": [{"filter": "datum.p === 'KF'"}], "mark": {"type": "line", "interpolate": "monotone", "strokeWidth": 3.5},
    "encoding": {"y": {"field": "v", "type": "quantitative", "scale": {"domain": [-10, 80], "nice": false, "zero": false}, "axis": {"values": [0, 20, 40, 60, 80], "title": null}}, "color": {"field": "s", "type": "nominal", "scale": {"domain": ["m", "r"], "range": ["#000080", "#f04e45"]}, "legend": null}}}
  ]}
]
}
